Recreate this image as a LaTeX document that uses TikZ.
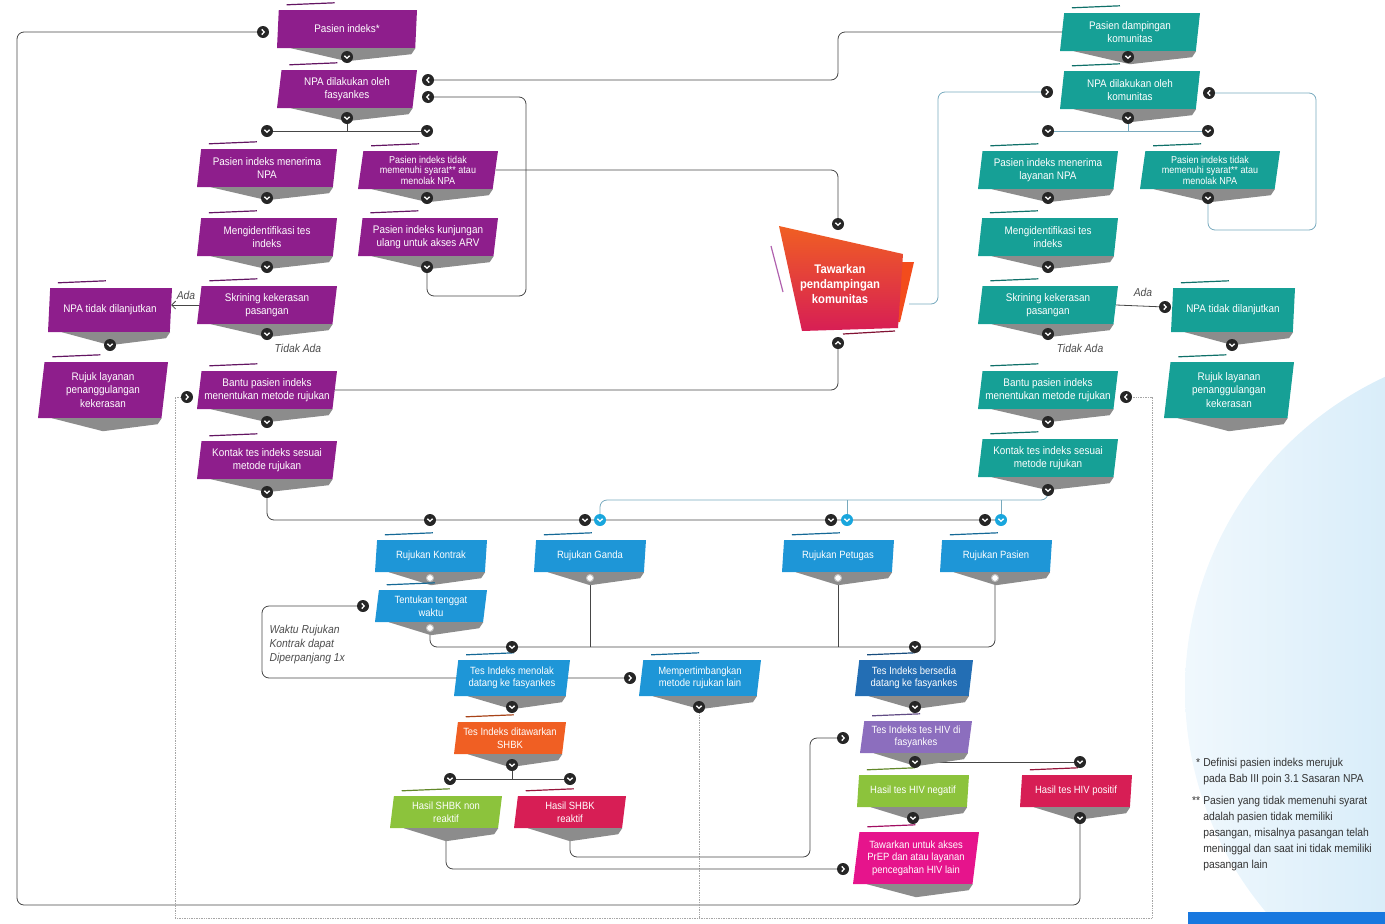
\documentclass[tikz,border=0pt]{standalone}
\usepackage{fontspec}
\setmainfont{Liberation Sans}[FakeStretch=0.9]
\usetikzlibrary{shapes.geometric, arrows.meta, positioning, calc, backgrounds}

\definecolor{npaPurple}{RGB}{142, 30, 140}
\definecolor{npaTeal}{RGB}{22, 160, 150}
\definecolor{npaBlue}{RGB}{30, 150, 215}
\definecolor{npaNavy}{RGB}{35, 110, 180}
\definecolor{npaOrange}{RGB}{240, 95, 35}
\definecolor{npaGreen}{RGB}{140, 195, 60}
\definecolor{npaRed}{RGB}{215, 30, 85}
\definecolor{npaPink}{RGB}{230, 20, 140}
\definecolor{npaLilac}{RGB}{140, 110, 190}
\definecolor{npaLine}{RGB}{70, 70, 70}
\definecolor{npaCyanLine}{RGB}{120, 170, 190}
\definecolor{npaSkyLight}{RGB}{240, 248, 253}
\definecolor{npaSky}{RGB}{160, 210, 240}

\begin{document}
\begin{tikzpicture}[
    x=1pt, y=-1pt,
    box/.style={trapezium, trapezium left angle=80, trapezium right angle=100,
                trapezium stretches body, fill=#1, text=white, align=center,
                font=\fontsize{11}{13.5}\selectfont, minimum width=140, minimum height=38,
                inner sep=1pt},
    sbox/.style={box=#1, minimum width=112, minimum height=32,
                 font=\fontsize{10.5}{12.5}\selectfont},
    tiny/.style={font=\fontsize{10}{10.5}\selectfont},
    chev/.style={circle, fill=black!85, minimum size=12, inner sep=0pt},
    chevd/.style={chev, path picture={\draw[white, line width=1.3pt]
        ([shift={(-2.6pt,1.2pt)}]path picture bounding box.center) -- ++(2.6pt,-2.4pt) -- ++(2.6pt,2.4pt);}},
    chevu/.style={chev, path picture={\draw[white, line width=1.3pt]
        ([shift={(-2.6pt,-1.2pt)}]path picture bounding box.center) -- ++(2.6pt,2.4pt) -- ++(2.6pt,-2.4pt);}},
    chevr/.style={chev, path picture={\draw[white, line width=1.3pt]
        ([shift={(-1.2pt,2.6pt)}]path picture bounding box.center) -- ++(2.4pt,-2.6pt) -- ++(-2.4pt,-2.6pt);}},
    chevl/.style={chev, path picture={\draw[white, line width=1.3pt]
        ([shift={(1.2pt,2.6pt)}]path picture bounding box.center) -- ++(-2.4pt,-2.6pt) -- ++(2.4pt,-2.6pt);}},
    bchev/.style={chevd, fill=npaBlue!85!cyan},
    wdot/.style={circle, draw=gray!50, fill=white, line width=1pt, minimum size=7, inner sep=0pt},
    link/.style={draw=npaLine, line width=0.8pt, rounded corners=7},
    clink/.style={link, draw=npaCyanLine},
    dlink/.style={draw=gray!70, line width=0.7pt, densely dotted},
    note/.style={font=\fontsize{11.5}{14}\selectfont\itshape, text=black!70},
    foot/.style={font=\fontsize{11.5}{16}\selectfont, text=black!80}
  ]
  \useasboundingbox (0,0) rectangle (1385,924);

  % background circle and bar
  \begin{scope}[on background layer]
    \clip (0,0) rectangle (1385,924);
    \shade[left color=npaSkyLight, right color=npaSky] (1530,690) circle (345pt);
  \end{scope}
  \fill[npaBlue!80!blue] (1188,912) rectangle (1385,924);

  % Fasyankes side
  \node[box=npaPurple] (pi) at (347,29) {Pasien indeks*};
  \node[box=npaPurple] (npaf) at (347,89) {NPA dilakukan oleh\\fasyankes};
  \node[box=npaPurple] (pim) at (267,168) {Pasien indeks menerima\\NPA};
  \node[box=npaPurple, tiny] (pit) at (428,170) {Pasien indeks tidak\\memenuhi syarat** atau\\menolak NPA};
  \node[box=npaPurple] (mti) at (267,237) {Mengidentifikasi tes\\indeks};
  \node[box=npaPurple] (pik) at (428,237) {Pasien indeks kunjungan\\ulang untuk akses ARV};
  \node[box=npaPurple] (skp) at (267,305) {Skrining kekerasan\\pasangan};
  \node[box=npaPurple, minimum width=124, minimum height=44] (ntl) at (110,310) {NPA tidak dilanjutkan};
  \node[box=npaPurple, minimum width=130, minimum height=56] (rlk) at (103,390) {Rujuk layanan\\penanggulangan\\kekerasan};
  \node[box=npaPurple] (bpi) at (267,390) {Bantu pasien indeks\\menentukan metode rujukan};
  \node[box=npaPurple] (ktk) at (267,460) {Kontak tes indeks sesuai\\metode rujukan};

  % Komunitas side
  \node[box=npaTeal] (pdk) at (1130,32) {Pasien dampingan\\komunitas};
  \node[box=npaTeal] (npk) at (1130,90) {NPA dilakukan oleh\\komunitas};
  \node[box=npaTeal] (pimk) at (1048,170) {Pasien indeks menerima\\layanan NPA};
  \node[box=npaTeal, tiny] (pitk) at (1210,170) {Pasien indeks tidak\\memenuhi syarat** atau\\menolak NPA};
  \node[box=npaTeal] (mtik) at (1048,237) {Mengidentifikasi tes\\indeks};
  \node[box=npaTeal] (skpk) at (1048,305) {Skrining kekerasan\\pasangan};
  \node[box=npaTeal, minimum width=124, minimum height=44] (ntlk) at (1233,310) {NPA tidak dilanjutkan};
  \node[box=npaTeal, minimum width=130, minimum height=56] (rlkk) at (1229,390) {Rujuk layanan\\penanggulangan\\kekerasan};
  \node[box=npaTeal] (bpik) at (1048,390) {Bantu pasien indeks\\menentukan metode rujukan};
  \node[box=npaTeal] (ktkk) at (1048,458) {Kontak tes indeks sesuai\\metode rujukan};

  % Tawarkan pendampingan
  \fill[npaOrange!80!red] (896,262) -- (914,262) -- (900,322) -- (896,322) -- cycle;
  \shade[top color=npaOrange, bottom color=npaRed] (779,226) -- (903,254) -- (898,328) -- (802,331) -- cycle;
  \draw[npaPurple!70, line width=1.2pt] (771,246) -- (783,292);
  \draw[npaRed!60!black, line width=1.2pt] (843,334) -- (895,331);
  \node[text=white, font=\fontsize{12.5}{15}\selectfont\bfseries, align=center,
        minimum width=126, minimum height=100] (taw) at (840,284) {Tawarkan\\pendampingan\\komunitas};

  % Metode rujukan
  \node[sbox=npaBlue] (rk) at (431,556) {Rujukan Kontrak};
  \node[sbox=npaBlue] (rg) at (590,556) {Rujukan Ganda};
  \node[sbox=npaBlue] (rp) at (838,556) {Rujukan Petugas};
  \node[sbox=npaBlue] (rps) at (996,556) {Rujukan Pasien};
  \node[sbox=npaBlue] (ttw) at (431,606) {Tentukan tenggat\\waktu};
  \node[sbox=npaBlue, minimum width=116, minimum height=36] (tim) at (512,678) {Tes Indeks menolak\\datang ke fasyankes};
  \node[sbox=npaBlue, minimum width=122, minimum height=36] (mmr) at (700,678) {Mempertimbangkan\\metode rujukan lain};
  \node[sbox=npaNavy, minimum width=118, minimum height=36] (tib) at (914,678) {Tes Indeks bersedia\\datang ke fasyankes};
  \node[sbox=npaLilac] (tih) at (916,737) {Tes Indeks tes HIV di\\fasyankes};
  \node[sbox=npaOrange] (tis) at (510,738) {Tes Indeks ditawarkan\\SHBK};
  \node[sbox=npaGreen] (hsn) at (446,812) {Hasil SHBK non\\reaktif};
  \node[sbox=npaRed] (hsr) at (570,812) {Hasil SHBK\\reaktif};
  \node[sbox=npaGreen] (hhn) at (913,791) {Hasil tes HIV negatif};
  \node[sbox=npaRed] (hhp) at (1076,791) {Hasil tes HIV positif};
  \node[sbox=npaPink, minimum width=126, minimum height=52] (tpr) at (916,858) {Tawarkan untuk akses\\PrEP dan atau layanan\\pencegahan HIV lain};

  % shadows and accent lines
  \foreach \n/\c in {pi/npaPurple, npaf/npaPurple, pim/npaPurple, pit/npaPurple, mti/npaPurple,
                     pik/npaPurple, skp/npaPurple, ntl/npaPurple, rlk/npaPurple, bpi/npaPurple,
                     ktk/npaPurple, pdk/npaTeal, npk/npaTeal, pimk/npaTeal, pitk/npaTeal,
                     mtik/npaTeal, skpk/npaTeal, ntlk/npaTeal, rlkk/npaTeal, bpik/npaTeal,
                     ktkk/npaTeal, rk/npaBlue, rg/npaBlue, rp/npaBlue, rps/npaBlue, ttw/npaBlue,
                     tim/npaBlue, mmr/npaBlue, tib/npaNavy, tih/npaLilac, tis/npaOrange,
                     hsn/npaGreen, hsr/npaRed, hhn/npaGreen, hhp/npaRed, tpr/npaPink} {
    \fill[black!45] ([shift={(14,0)}]\n.bottom left corner) -- (\n.bottom right corner)
      -- ([shift={(-4,6)}]\n.bottom right corner) -- ([shift={(0,13)}]\n.south) -- cycle;
    \draw[\c!70!black, line width=1.2pt] ([shift={(8,-5)}]\n.top left corner) -- ++(48,-2);
  }

  % chevrons
  \node[chevd] (pio) at (347,57) {};
  \node[chevr] (pii) at (263,32) {};
  \node[chevl] (npafr1) at (428,80) {};
  \node[chevl] (npafr2) at (428,97) {};
  \node[chevd] (npafo) at (347,118) {};
  \node[chevd] (pimi) at (267,131) {};
  \node[chevd] (piti) at (427,131) {};
  \node[chevd] (pimo) at (267,198) {};
  \node[chevd] (pito) at (427,198) {};
  \node[chevd] (mtio) at (267,267) {};
  \node[chevd] (piko) at (427,267) {};
  \node[chevd] (skpo) at (267,334) {};
  \node[chevd] (ntlo) at (110,345) {};
  \node[chevr] (bpil) at (187,397) {};
  \node[chevd] (bpio) at (267,422) {};
  \node[chevd] (ktko) at (267,492) {};
  \node[chevd] (tawi) at (838,224) {};
  \node[chevu] (tawo) at (838,343) {};
  \node[chevd] (pdko) at (1128,57) {};
  \node[chevr] (npkl) at (1047,92) {};
  \node[chevl] (npkr) at (1209,93) {};
  \node[chevd] (npko) at (1128,118) {};
  \node[chevd] (pimki) at (1048,131) {};
  \node[chevd] (pitki) at (1208,131) {};
  \node[chevd] (pimko) at (1048,198) {};
  \node[chevd] (pitko) at (1208,198) {};
  \node[chevd] (mtiko) at (1048,267) {};
  \node[chevd] (skpko) at (1048,334) {};
  \node[chevr] (ntlki) at (1165,307) {};
  \node[chevd] (ntlko) at (1232,345) {};
  \node[chevl] (bpikr) at (1126,397) {};
  \node[chevd] (bpiko) at (1048,422) {};
  \node[chevd] (ktkko) at (1048,490) {};
  \node[chevd] (rki) at (430,520) {};
  \node[chevd] (rgi) at (585,520) {};
  \node[bchev] (rgbi) at (600,520) {};
  \node[chevd] (rpi) at (831,520) {};
  \node[bchev] (rpbi) at (847,520) {};
  \node[chevd] (rpsi) at (985,520) {};
  \node[bchev] (rpsbi) at (1001,520) {};
  \node[wdot] (rko) at (430,578) {};
  \node[wdot] (rgo) at (590,578) {};
  \node[wdot] (rpo) at (838,578) {};
  \node[wdot] (rpso) at (995,578) {};
  \node[wdot] (ttwo) at (430,628) {};
  \node[chevr] (ttwi) at (363,606) {};
  \node[chevd] (timi) at (512,647) {};
  \node[chevd] (tibi) at (915,647) {};
  \node[chevd] (timo) at (512,707) {};
  \node[chevr] (mmri) at (630,678) {};
  \node[chevd] (mmro) at (699,707) {};
  \node[chevd] (tibo) at (915,707) {};
  \node[chevr] (tihi) at (843,738) {};
  \node[chevd] (tiho) at (915,762) {};
  \node[chevd] (hhpi) at (1080,762) {};
  \node[chevd] (tiso) at (512,765) {};
  \node[chevd] (hsni) at (450,779) {};
  \node[chevd] (hsri) at (570,779) {};
  \node[chevd] (hhno) at (913,818) {};
  \node[chevd] (hhpo) at (1080,818) {};
  \node[chevr] (tpri) at (843,869) {};

  % corner points
  \coordinate (lb) at (17,905);
  \coordinate (kt) at (838,60);
  \coordinate (kr) at (526,296);
  \coordinate (kc) at (938,200);
  \coordinate (kq) at (1316,230);
  \coordinate (kb) at (1048,500);
  \coordinate (km) at (995,647);
  \coordinate (kw) at (262,640);
  \coordinate (kd1) at (175,918);
  \coordinate (kd2) at (1152,397);
  \coordinate (kh) at (810,857);

  % connectors
  \begin{scope}[on background layer]
    \draw[link] (hhpo) |- (lb) |- (pii);
    \draw[link] (npafo) -- (npafo |- pimi);
    \draw[link] (pimi) -- (piti);
    \draw[link] (pit.east) -| (tawi);
    \draw[link] (pdk.west) -| (kt) |- (npafr1);
    \draw[link] (piko) |- (kr) |- (npafr2);
    \draw[link, -{Straight Barb[length=4pt]}] (skp.west) -- (ntl.east |- skp.west);
    \draw[link] (bpi.east) -| (tawo);
    \draw[clink] ([shift={(6,20)}]taw.east) -| (kc) |- (npkl);
    \draw[clink] (npko) -- (npko |- pimki);
    \draw[clink] (pimki) -- (pitki);
    \draw[clink] (pitko) |- (kq) |- (npkr);
    \draw[link] (skpk.east) -- (ntlki);
    \draw[link] (ktko) |- (rpsbi);
    \draw[clink] (ktkko) -- (kb) -| (rgbi);
    \draw[clink] (rpbi |- kb) -- (rpbi);
    \draw[clink] (rpsbi |- kb) -- (rpsbi);
    \draw[link] (ttwo) |- (km) -- (rpso);
    \draw[link] (rgo) -- (rgo |- km);
    \draw[link] (rpo) -- (rpo |- km);
    \draw[link] (tim.west) -| (kw) |- (ttwi);
    \draw[link] (tim.east) -- (mmri);
    \draw[dlink] (mmro) -- (mmro |- kd1);
    \draw[dlink] (bpil) -| (kd1) -| (kd2) -- (bpikr);
    \draw[link] (tiso) -- (tiso |- hsni);
    \draw[link] (hsni) -- (hsri);
    \draw[link] (hsr.south) |- (kh) |- (tihi);
    \draw[link] (hsn.south) |- (tpri);
    \draw[link] (tiho) -- (hhpi);
  \end{scope}

  % labels
  \node[note] (ada1) at (186,295) {Ada};
  \node[note] (tada1) at (298,348) {Tidak Ada};
  \node[note] (ada2) at (1143,292) {Ada};
  \node[note] (tada2) at (1080,348) {Tidak Ada};
  \node[note, align=left, anchor=north west] (wrk) at (266,622) {Waktu Rujukan\\Kontrak dapat\\Diperpanjang 1x};

  % footnotes
  \node[foot, anchor=north west, inner sep=0pt] (fn) at (1192,755) {%
    \begin{tabular}{@{}r@{\hspace{3pt}}l@{}}
      * & Definisi pasien indeks merujuk\\
        & pada Bab III poin 3.1 Sasaran NPA\\[6pt]
      ** & Pasien yang tidak memenuhi syarat\\
        & adalah pasien tidak memiliki\\
        & pasangan, misalnya pasangan telah\\
        & meninggal dan saat ini tidak memiliki\\
        & pasangan lain
    \end{tabular}};
\end{tikzpicture}
\end{document}
